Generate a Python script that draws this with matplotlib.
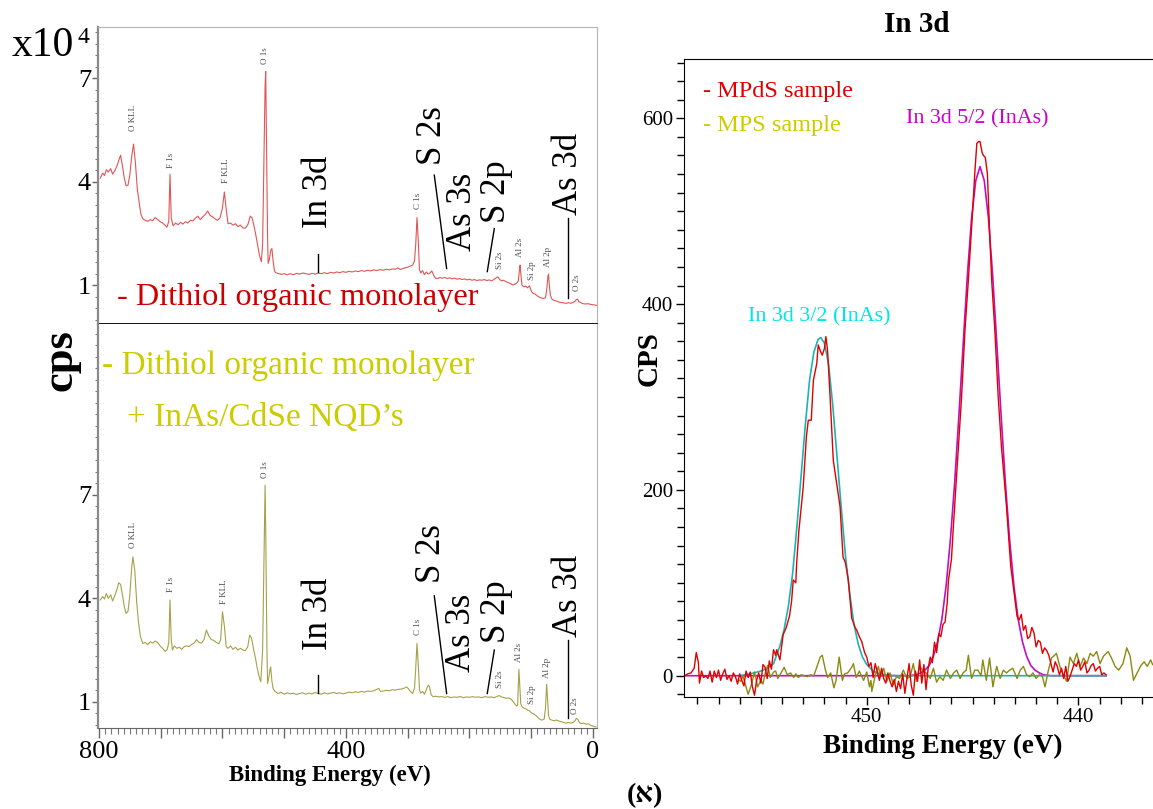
import matplotlib
matplotlib.use('Agg')
import matplotlib.pyplot as plt
from matplotlib.ticker import MultipleLocator, FixedLocator, FuncFormatter
import numpy as np

plt.rcParams['font.family'] = ['Liberation Serif', 'DejaVu Sans']

# ---- survey spectra (binding energy eV, cps x10^4) ----
survey_top = np.array([
    [798, 4.10], [794, 4.25], [791, 4.18], [788, 4.35], [785, 4.28], [781, 4.38], [778, 4.22],
    [775, 4.30], [771, 4.45], [768, 4.62], [765, 4.77], [762, 4.45], [759, 4.10], [756, 3.88],
    [753, 3.90], [750, 4.20], [747, 4.75], [744, 5.09], [741, 4.55], [738, 3.80], [735, 3.40],
    [732, 3.05], [729, 2.92], [725, 2.88], [721, 2.85], [717, 2.90], [713, 2.87], [709, 2.96],
    [705, 2.90], [701, 2.84], [697, 2.80], [693, 2.74], [690, 2.68], [687, 2.85], [685, 4.22],
    [683, 2.95], [680, 2.72], [676, 2.80], [672, 2.75], [668, 2.82], [664, 2.77], [660, 2.84],
    [656, 2.80], [652, 2.88], [648, 2.86], [644, 2.94], [640, 3.00], [636, 2.90], [632, 2.98],
    [628, 3.05], [624, 3.15], [620, 3.02], [616, 2.98], [612, 2.92], [608, 2.88], [604, 2.95],
    [600, 3.25], [597, 3.70], [594, 3.20], [591, 2.78], [587, 2.80], [583, 2.74], [579, 2.78],
    [575, 2.70], [571, 2.74], [567, 2.66], [563, 2.65], [559, 2.75], [555, 3.00], [552, 2.95],
    [549, 2.72], [546, 2.45], [543, 2.15], [540, 1.85], [537, 1.68], [535, 2.20], [533, 4.50],
    [531, 6.80], [530, 7.20], [529, 5.50], [527, 2.40], [526, 1.63], [524, 1.75], [522, 2.00],
    [520, 2.06], [518, 1.70], [516, 1.42], [514, 1.36], [510, 1.34], [505, 1.31], [500, 1.33],
    [495, 1.30], [490, 1.33], [485, 1.30], [480, 1.34], [475, 1.32], [470, 1.35], [465, 1.33],
    [460, 1.31], [455, 1.34], [450, 1.32], [445, 1.35], [440, 1.33], [435, 1.36], [430, 1.33],
    [425, 1.37], [420, 1.35], [415, 1.38], [410, 1.36], [405, 1.39], [400, 1.37], [395, 1.40],
    [390, 1.38], [385, 1.41], [380, 1.39], [375, 1.42], [370, 1.40], [365, 1.43], [360, 1.41],
    [355, 1.44], [350, 1.42], [345, 1.45], [340, 1.43], [335, 1.46], [330, 1.44], [325, 1.47],
    [320, 1.46], [316, 1.50], [312, 1.45], [308, 1.48], [304, 1.50], [300, 1.52], [296, 1.55],
    [292, 1.58], [289, 1.70], [287, 2.20], [285, 2.96], [283, 2.30], [281, 1.45], [279, 1.35],
    [276, 1.42], [273, 1.30], [270, 1.38], [267, 1.32], [264, 1.35], [261, 1.41], [258, 1.28],
    [255, 1.20], [252, 1.19], [248, 1.22], [244, 1.20], [240, 1.22], [236, 1.19], [232, 1.21],
    [228, 1.18], [224, 1.20], [220, 1.17], [216, 1.19], [212, 1.16], [208, 1.18], [204, 1.15],
    [200, 1.17], [196, 1.14], [192, 1.16], [188, 1.13], [184, 1.15], [180, 1.14], [176, 1.16],
    [172, 1.13], [168, 1.15], [164, 1.12], [160, 1.17], [156, 1.22], [154, 1.24], [151, 1.16],
    [148, 1.12], [145, 1.14], [141, 1.10], [137, 1.07], [133, 1.04], [130, 1.00], [127, 1.02],
    [124, 1.05], [121, 1.12], [119, 1.45], [118, 1.58], [117, 1.35], [115, 1.00], [112, 0.95],
    [109, 0.97], [106, 0.92], [104, 0.96], [103, 0.98], [101, 0.88], [99, 0.80], [97, 0.76],
    [94, 0.74], [91, 0.70], [88, 0.66], [85, 0.63], [82, 0.62], [80, 0.61], [77, 0.63],
    [75, 0.85], [73, 1.25], [72, 1.32], [71, 1.05], [69, 0.70], [66, 0.58], [62, 0.55],
    [58, 0.53], [54, 0.50], [50, 0.49], [46, 0.48], [43, 0.47], [40, 0.49], [36, 0.47],
    [32, 0.50], [29, 0.53], [27, 0.58], [25, 0.59], [23, 0.52], [20, 0.49], [16, 0.46],
    [12, 0.45], [8, 0.46], [4, 0.44], [0, 0.43], [-3, 0.42], [-6, 0.41]])

survey_bot = np.array([
    [798, 3.95], [794, 4.05], [791, 3.98], [788, 4.14], [785, 4.00], [781, 4.10], [778, 3.92],
    [775, 4.05], [771, 4.25], [768, 4.45], [765, 4.40], [762, 4.10], [759, 3.75], [756, 3.56],
    [753, 3.62], [750, 4.10], [747, 4.90], [745, 5.20], [742, 4.80], [739, 3.90], [736, 3.30],
    [733, 2.90], [729, 2.69], [725, 2.72], [721, 2.66], [717, 2.74], [713, 2.70], [709, 2.76],
    [705, 2.72], [701, 2.62], [697, 2.55], [693, 2.46], [690, 2.50], [687, 2.70], [685, 3.95],
    [683, 2.80], [681, 2.50], [678, 2.62], [674, 2.55], [670, 2.58], [666, 2.52], [662, 2.60],
    [658, 2.62], [654, 2.60], [650, 2.66], [646, 2.70], [642, 2.80], [638, 2.72], [634, 2.70],
    [630, 2.80], [626, 3.08], [622, 2.90], [618, 2.80], [614, 2.78], [610, 2.72], [606, 2.68],
    [603, 2.80], [600, 3.61], [597, 3.20], [594, 2.60], [591, 2.55], [587, 2.62], [583, 2.52],
    [579, 2.58], [575, 2.50], [571, 2.55], [567, 2.50], [563, 2.48], [559, 2.60], [556, 2.93],
    [553, 2.85], [550, 2.55], [547, 2.30], [544, 2.00], [541, 1.75], [538, 1.58], [535, 2.50],
    [533, 5.00], [531, 7.28], [530, 6.00], [528, 2.50], [527, 1.53], [525, 1.70], [523, 1.95],
    [522, 2.01], [520, 1.60], [518, 1.38], [515, 1.30], [510, 1.24], [505, 1.27], [500, 1.22],
    [495, 1.26], [490, 1.23], [485, 1.25], [480, 1.21], [475, 1.24], [470, 1.26], [465, 1.22],
    [460, 1.25], [455, 1.23], [450, 1.27], [445, 1.24], [440, 1.22], [435, 1.26], [430, 1.23],
    [425, 1.25], [420, 1.27], [415, 1.24], [410, 1.26], [405, 1.23], [400, 1.25], [395, 1.28],
    [390, 1.26], [385, 1.29], [380, 1.27], [375, 1.30], [370, 1.28], [365, 1.31], [360, 1.30],
    [355, 1.32], [350, 1.36], [347, 1.39], [344, 1.30], [340, 1.31], [335, 1.33], [330, 1.32],
    [325, 1.35], [320, 1.34], [315, 1.36], [310, 1.37], [305, 1.40], [302, 1.43], [299, 1.38],
    [296, 1.30], [292, 1.24], [289, 1.40], [287, 2.00], [285, 2.69], [283, 2.10], [281, 1.35],
    [279, 1.25], [276, 1.30], [273, 1.22], [270, 1.35], [267, 1.48], [265, 1.45], [262, 1.20],
    [259, 1.15], [255, 1.16], [250, 1.14], [245, 1.15], [240, 1.13], [235, 1.15], [230, 1.12],
    [225, 1.14], [220, 1.13], [215, 1.15], [210, 1.12], [205, 1.14], [200, 1.13], [195, 1.15],
    [190, 1.13], [185, 1.14], [180, 1.12], [175, 1.15], [170, 1.13], [165, 1.14], [160, 1.12],
    [156, 1.15], [152, 1.18], [148, 1.14], [144, 1.12], [140, 1.10], [136, 1.11], [133, 1.08],
    [130, 1.02], [127, 0.95], [124, 0.88], [122, 0.90], [120, 1.94], [119, 1.60], [117, 0.95],
    [115, 0.86], [112, 0.82], [109, 0.80], [106, 0.76], [103, 0.74], [100, 0.68], [97, 0.66],
    [94, 0.62], [91, 0.58], [88, 0.52], [85, 0.48], [82, 0.47], [79, 0.50], [77, 0.80],
    [75, 1.51], [74, 1.20], [72, 0.60], [70, 0.50], [67, 0.47], [63, 0.45], [59, 0.47],
    [55, 0.44], [51, 0.42], [47, 0.40], [43, 0.38], [40, 0.40], [36, 0.38], [32, 0.40],
    [29, 0.45], [27, 0.52], [25, 0.50], [22, 0.40], [19, 0.37], [15, 0.38], [11, 0.35],
    [7, 0.36], [4, 0.32], [1, 0.30], [-2, 0.28], [-5, 0.27]])

# ---- In 3d high resolution (binding energy eV, CPS) ----
mpds_data = np.array([
    [458.6, 0], [458.45, 2], [458.3, 3], [458.15, 8], [458.05, 25], [457.95, 14], [457.9, -8],
    [457.8, 5], [457.7, -2], [457.6, 0], [457.5, -3], [457.4, 5], [457.3, -7], [457.2, 5],
    [457.1, -2], [457.0, 6], [456.9, -5], [456.8, 2], [456.7, 7], [456.6, -4], [456.5, 0],
    [456.4, -6], [456.3, 3], [456.2, -1], [456.1, -9], [456.0, 2], [455.9, -5], [455.8, -11],
    [455.7, 5], [455.6, -2], [455.5, 4], [455.4, -12], [455.3, -21], [455.2, -5], [455.1, 3],
    [455.0, -8], [454.9, 12], [454.8, 9], [454.7, -3], [454.6, 16], [454.5, 7], [454.4, 28],
    [454.3, 22], [454.25, 28], [454.1, 17], [453.95, 44], [453.8, 52], [453.65, 64],
    [453.55, 80], [453.47, 103], [453.35, 100], [453.31, 121], [453.2, 157], [453.0, 203],
    [452.85, 257], [452.76, 275], [452.62, 275], [452.52, 318], [452.36, 336], [452.29, 356],
    [452.2, 350], [452.1, 345], [452.0, 352], [451.93, 365], [451.85, 350], [451.73, 300],
    [451.58, 232], [451.42, 207], [451.26, 182], [451.12, 128], [451.0, 121], [450.87, 103],
    [450.71, 62], [450.55, 52], [450.47, 49], [450.35, 42], [450.24, 37], [450.1, 25],
    [450.0, 20], [449.9, 10], [449.8, 14], [449.7, -2], [449.6, 13], [449.5, 4], [449.4, -5],
    [449.3, 8], [449.2, -3], [449.1, -8], [449.0, 3], [448.9, -6], [448.8, -12], [448.7, -4],
    [448.6, -17], [448.5, -6], [448.4, -14], [448.3, 2], [448.2, -19], [448.1, -3], [448.0, 13],
    [447.9, -10], [447.8, -21], [447.7, 5], [447.6, -6], [447.5, 17], [447.4, -8], [447.3, 12],
    [447.2, -15], [447.1, 8], [447.0, 20], [446.9, 14], [446.8, 36], [446.7, 25], [446.6, 45],
    [446.5, 42], [446.4, 55], [446.3, 58], [446.2, 78], [446.14, 103], [446.0, 125],
    [445.91, 160], [445.8, 200], [445.67, 247], [445.52, 300], [445.36, 372], [445.2, 426],
    [445.0, 500], [444.9, 540], [444.8, 573], [444.72, 575], [444.65, 575], [444.55, 563],
    [444.49, 560], [444.4, 558], [444.3, 540], [444.2, 480], [444.1, 426], [443.95, 372],
    [443.79, 300], [443.64, 247], [443.5, 210], [443.4, 182], [443.3, 150], [443.2, 118],
    [443.1, 100], [443.0, 82], [442.9, 64], [442.8, 60], [442.7, 66], [442.6, 49], [442.5, 54],
    [442.4, 40], [442.3, 42], [442.2, 52], [442.1, 46], [442.0, 31], [441.9, 38], [441.8, 36],
    [441.7, 24], [441.6, 30], [441.5, 27], [441.4, 22], [441.3, 13], [441.2, 4], [441.1, 15],
    [441.0, 10], [440.9, 1], [440.8, 8], [440.7, -3], [440.6, 10], [440.5, -6], [440.4, -1],
    [440.3, 6], [440.2, 13], [440.1, 10], [440.0, 17], [439.9, 6], [439.8, 10], [439.7, 15],
    [439.6, 3], [439.5, 6], [439.4, 11], [439.3, 13], [439.2, 5], [439.1, 8], [439.0, 10],
    [438.9, 1], [438.8, 3], [438.7, 1]])

mps_data = np.array([
    [456.07, -4], [455.95, -6], [455.85, 0], [455.75, -8], [455.6, -20], [455.45, -10],
    [455.3, 4], [455.15, -12], [455.0, -5], [454.9, -9], [454.8, 2], [454.68, 11], [454.55, -2],
    [454.4, 4], [454.3, 5], [454.2, -3], [454.07, 2], [453.9, 9], [453.75, 1], [453.6, 3],
    [453.45, -2], [453.35, 2], [453.23, -2], [453.1, 1], [452.95, 0], [452.8, -1],
    [452.65, 1], [452.5, 0], [452.36, 9], [452.2, 20], [452.1, 22], [451.95, 6], [451.85, -2],
    [451.7, 3], [451.55, -13], [451.45, -5], [451.3, 20], [451.15, -5], [451.05, 2], [450.9, 3],
    [450.71, 9], [450.63, 13], [450.5, -2], [450.35, 5], [450.15, -5], [450.0, 4], [449.87, -12],
    [449.8, -5], [449.76, -17], [449.6, 0], [449.45, 10], [449.35, -1], [449.2, 8], [449.05, -6],
    [448.9, 3], [448.74, -10], [448.6, -1], [448.45, -3], [448.27, 6], [448.1, -3], [447.95, -1],
    [447.8, 13], [447.65, -6], [447.5, 10], [447.35, 6], [447.2, 3], [447.0, -3], [446.85, 8],
    [446.7, -7], [446.55, -1], [446.39, -5], [446.23, 6], [446.05, -3], [445.9, 3], [445.75, 6],
    [445.59, -3], [445.45, 3], [445.3, 6], [445.2, 22], [445.05, -3], [444.9, 6], [444.75, 6],
    [444.6, 0], [444.52, 17], [444.35, -5], [444.2, 19], [444.04, -12], [443.9, 6], [443.86, 10],
    [443.7, -3], [443.55, 6], [443.4, 3], [443.25, 6], [443.1, 8], [442.9, -3], [442.75, 6],
    [442.6, 10], [442.45, 1], [442.3, -1], [442.15, 3], [442.0, -3], [441.85, 1], [441.7, -1],
    [441.58, -12], [441.42, 6], [441.27, 19], [441.04, 24], [440.88, 10], [440.72, 1],
    [440.56, -6], [440.4, 20], [440.24, 13], [440.08, 24], [439.92, 10], [439.76, 19],
    [439.6, 13], [439.45, 24], [439.3, 21], [439.14, 26], [438.98, 13], [438.82, 21],
    [438.6, 26], [438.44, 19], [438.27, 10], [438.1, 6], [437.9, 13], [437.72, 30],
    [437.56, 21], [437.4, -5], [437.25, 2], [437.05, 11], [436.9, 15], [436.75, 10],
    [436.59, 17], [436.5, 12]])

fit_32 = np.array([
    [456.0, 0], [455.5, 2], [455.0, 5], [454.7, 8], [454.4, 13], [454.1, 32], [453.9, 50],
    [453.7, 75], [453.5, 110], [453.3, 160], [453.1, 215], [452.9, 270], [452.7, 318],
    [452.5, 348], [452.3, 362], [452.17, 364], [452.0, 358], [451.8, 335], [451.6, 290],
    [451.4, 235], [451.2, 180], [451.0, 128], [450.8, 88], [450.6, 55], [450.4, 34],
    [450.2, 20], [450.0, 12], [449.7, 5], [449.4, 2], [449.0, 0.5], [448.5, 0], [438.7, 0]])

fit_52 = np.array([
    [458.6, 0], [448.0, 0], [447.65, 1], [447.45, 3], [447.25, 6], [447.05, 11], [446.85, 21],
    [446.65, 37], [446.45, 61], [446.25, 97], [446.05, 146], [445.85, 207], [445.65, 279],
    [445.45, 355], [445.25, 430], [445.05, 492], [444.85, 533], [444.65, 548], [444.45, 533],
    [444.25, 492], [444.05, 430], [443.85, 355], [443.65, 279], [443.45, 207], [443.25, 146],
    [443.05, 97], [442.85, 61], [442.65, 37], [442.45, 21], [442.25, 11], [442.05, 6],
    [441.85, 3], [441.65, 1], [441.3, 0], [438.7, 0]])

# small peak labels (text, eV, value in 10^4 cps)
small_top = [('O KLL', 745, 5.84), ('F 1s', 683.4, 4.62), ('F KLL', 594.3, 4.33),
             ('O 1s', 531.2, 7.67), ('C 1s', 283.9, 3.43), ('Si 2s', 150.6, 1.72),
             ('Al 2s', 118.2, 2.10), ('Si 2p', 99.3, 1.43), ('Al 2p', 72.4, 1.81),
             ('O 2s', 26.4, 1.06)]
small_bot = [('O KLL', 745, 5.83), ('F 1s', 683.4, 4.41), ('F KLL', 597.6, 4.18),
             ('O 1s', 531.2, 7.74), ('C 1s', 283.9, 3.17), ('Si 2s', 150.6, 1.66),
             ('Al 2s', 119.3, 2.44), ('Si 2p', 99.3, 1.22), ('Al 2p', 75.1, 1.98),
             ('O 2s', 29.1, 0.88)]
# big labels (text, eV, value, leader line or None)
big_top = [('In 3d', 445.3, 3.70, ((445.3, 1.90), (445.3, 1.38))),
           ('S 2s', 259.1, 5.35, ((257.0, 4.19), (237.0, 1.48))),
           ('As 3s', 212.1, 3.12, None),
           ('S 2p', 156.0, 3.72, ((159.8, 2.64), (171.2, 1.39))),
           ('As 3d', 40.0, 4.22, ((40.0, 2.94), (40.0, 0.62)))]
big_bot = [('In 3d', 445.3, 3.54, ((445.3, 1.77), (445.3, 1.25))),
           ('S 2s', 261.2, 5.31, ((257.0, 4.07), (237.0, 1.24))),
           ('As 3s', 212.6, 2.99, None),
           ('S 2p', 156.0, 3.60, ((159.8, 2.50), (171.2, 1.24))),
           ('As 3d', 40.0, 4.06, ((40.0, 2.79), (40.0, 0.52)))]

W, H = 1153, 809
fig = plt.figure(figsize=(W / 100, H / 100), dpi=100)

ax_top = fig.add_axes([98 / W, 1 - 324 / H, 499 / W, 297 / H])
ax_bot = fig.add_axes([98 / W, 1 - 728 / H, 499 / W, 404 / H])
ax_r = fig.add_axes([684 / W, 1 - 696.7 / H, (W - 684) / W, 637.4 / H])

ax_top.plot(survey_top[:, 0], survey_top[:, 1], color='#e25555', lw=0.8)
ax_bot.plot(survey_bot[:, 0], survey_bot[:, 1], color='#a3a24a', lw=0.8)
ax_top.set_ylim(-0.13, 8.49)
ax_bot.set_ylim(0.24, 11.95)

for ax, small, big in [(ax_top, small_top, big_top), (ax_bot, small_bot, big_bot)]:
    ax.set_xlim(801.6, -6.5)
    ax.spines['left'].set_color('#8a8a8a')
    ax.spines['left'].set_linewidth(1.6)
    ax.spines['right'].set_color('#b5b5b5')
    ax.yaxis.set_major_locator(FixedLocator([1, 4, 7]))
    ax.yaxis.set_minor_locator(MultipleLocator(1 / 3))
    ax.tick_params(axis='y', which='major', direction='out', length=4, width=1,
                   color='#666666', labelsize=19, pad=1)
    ax.tick_params(axis='y', which='minor', direction='out', length=2.5, width=0.8,
                   color='#777777')
    for txt, xe, yv in small:
        ax.text(xe, yv, txt, rotation=90, ha='center', va='center', fontsize=6.5,
                color='#4a4a4a')
    for txt, xe, yv, line in big:
        ax.text(xe, yv, txt, rotation=90, ha='center', va='center', fontsize=25,
                color='black')
        if line is not None:
            ax.plot([line[0][0], line[1][0]], [line[0][1], line[1][1]], color='black', lw=1)

ax_top.spines['top'].set_color('#b5b5b5')
ax_top.spines['bottom'].set_color('black')
ax_top.spines['bottom'].set_linewidth(1.3)
ax_top.tick_params(axis='x', which='both', bottom=False, labelbottom=False)
ax_bot.spines['top'].set_visible(False)
ax_bot.spines['bottom'].set_color('#666666')
ax_bot.xaxis.set_major_locator(MultipleLocator(100))
ax_bot.xaxis.set_minor_locator(MultipleLocator(10))
ax_bot.xaxis.set_major_formatter(FuncFormatter(
    lambda v, p: '%d' % v if int(round(v)) in (800, 400, 0) else ''))
ax_bot.tick_params(axis='x', which='major', direction='out', length=7, width=1,
                   color='#666666', labelsize=19, pad=2)
ax_bot.tick_params(axis='x', which='minor', direction='out', length=4, width=0.8,
                   color='#777777')
ax_bot.set_xlabel('Binding Energy (eV)', fontsize=16.5, fontweight='bold', labelpad=2)
ax_bot.xaxis.set_label_coords(0.465, -0.092)

fig.text(12 / W, 1 - 56 / H, 'x10', fontsize=30, ha='left', va='baseline')
fig.text(78 / W, 1 - 43 / H, '4', fontsize=17, ha='left', va='baseline')
fig.text(60 / W, 1 - 360 / H, 'cps', fontsize=32, fontweight='bold', rotation=90,
         ha='center', va='center')
fig.text(117 / W, 1 - 298 / H, '- Dithiol organic monolayer', fontsize=23.3,
         color='#cc0000', ha='left', va='center')
fig.text(102 / W, 1 - 366 / H, '- Dithiol organic monolayer', fontsize=24,
         color='#cccc00', ha='left', va='center')
fig.text(127 / W, 1 - 418 / H, '+ InAs/CdSe NQD\u2019s', fontsize=24,
         color='#cccc00', ha='left', va='center')

# ---- right panel ----
ax_r.plot(fit_52[:, 0], fit_52[:, 1], color='#c010c0', lw=1.2)
ax_r.plot(fit_32[:, 0], fit_32[:, 1], color='#20b2b2', lw=1.2)
ax_r.plot(mps_data[:, 0], mps_data[:, 1], color='#8a8a10', lw=1.0)
ax_r.plot(mpds_data[:, 0], mpds_data[:, 1], color='#e00000', lw=1.0)
ax_r.set_xlim(458.63, 436.48)
ax_r.set_ylim(-22.6, 663.5)
ax_r.spines['right'].set_visible(False)
ax_r.xaxis.set_major_locator(MultipleLocator(10))
ax_r.xaxis.set_minor_locator(MultipleLocator(1))
ax_r.yaxis.set_major_locator(MultipleLocator(200))
ax_r.yaxis.set_minor_locator(MultipleLocator(20))
ax_r.tick_params(which='major', direction='out', length=6, width=1, labelsize=15, pad=2)
ax_r.tick_params(which='minor', direction='out', length=5, width=1)
ax_r.set_xlabel('Binding Energy (eV)', fontsize=19.5, fontweight='bold')
ax_r.xaxis.set_label_coords((943 - 684) / (W - 684), -0.058)
ax_r.set_ylabel('CPS', fontsize=21, fontweight='bold')
ax_r.yaxis.set_label_coords(-0.045, 0.53)
fig.text(917 / W, 1 - 25 / H, 'In 3d', fontsize=21, fontweight='bold',
         ha='center', va='center')

fig.text(703 / W, 1 - 91 / H, '- MPdS sample', fontsize=17.5, color='#dd0000',
         ha='left', va='center')
fig.text(703 / W, 1 - 125 / H, '- MPS sample', fontsize=17.5, color='#cccc00',
         ha='left', va='center')
fig.text(906 / W, 1 - 119 / H, 'In 3d 5/2 (InAs)', fontsize=15.8, color='#cc00cc',
         ha='left', va='center')
fig.text(748 / W, 1 - 317 / H, 'In 3d 3/2 (InAs)', fontsize=15.8, color='#00e5e5',
         ha='left', va='center')

fig.text(645 / W, 1 / H, '(\u05d0)', fontsize=20, fontweight='bold',
         ha='center', va='bottom')

fig.savefig('out.png', dpi=100)
